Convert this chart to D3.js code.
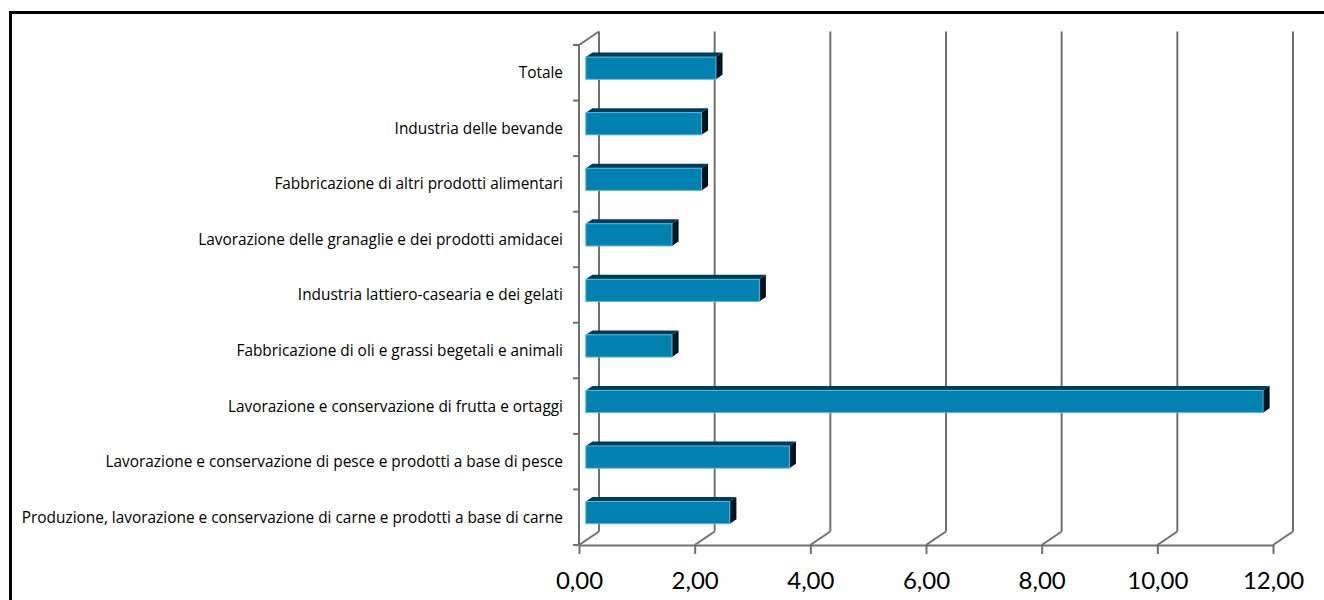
<!DOCTYPE html>
<html>
<head>
<meta charset="utf-8">
<script src="https://cdn.jsdelivr.net/npm/d3@7"></script>
<style>
  html, body { margin: 0; padding: 0; background: #fff; }
  svg { display: block; }
</style>
</head>
<body>
<svg id="chart" width="1324" height="600"></svg>
<script>
// Categories, top to bottom
const categories = [
  "Totale",
  "Industria delle bevande",
  "Fabbricazione di altri prodotti alimentari",
  "Lavorazione delle granaglie e dei prodotti amidacei",
  "Industria lattiero-casearia e dei gelati",
  "Fabbricazione di oli e grassi begetali e animali",
  "Lavorazione e conservazione di frutta e ortaggi",
  "Lavorazione e conservazione di pesce e prodotti a base di pesce",
  "Produzione, lavorazione e conservazione di carne e prodotti a base di carne"
];
const values = [2.25, 2.0, 2.0, 1.49, 3.0, 1.49, 11.71, 3.52, 2.49];
const tickValues = [0, 2, 4, 6, 8, 10, 12];

const svg = d3.select("#chart");

// Frame around the chart area
svg.append("path")
  .attr("d", "M10.5,600 L10.5,12.5 L1324,12.5")
  .attr("fill", "none").attr("stroke", "#000").attr("stroke-width", 3);

// Front plane scales
const x = d3.scaleLinear().domain([0, 12]).range([579, 1273]);
const y = d3.scaleBand().domain(categories).range([45, 545]).paddingInner(0).paddingOuter(0);

// Depth offset of the back wall
const DX = 20, DY = -13.5;
const gridColor = "#707070";

const g = svg.append("g");

// Back wall vertical gridlines
g.selectAll("line.grid").data(tickValues).join("line")
  .attr("class", "grid")
  .attr("x1", d => x(d) + DX).attr("x2", d => x(d) + DX)
  .attr("y1", y.range()[0] + DY).attr("y2", y.range()[1] + DY)
  .attr("stroke", gridColor).attr("stroke-width", 2);

// Floor diagonals from each front tick to the back wall
g.selectAll("line.floor").data(tickValues).join("line")
  .attr("class", "floor")
  .attr("x1", d => x(d)).attr("y1", y.range()[1])
  .attr("x2", d => x(d) + DX).attr("y2", y.range()[1] + DY)
  .attr("stroke", gridColor).attr("stroke-width", 2);

// Left wall: top diagonal
g.append("line")
  .attr("x1", x(0)).attr("y1", y.range()[0])
  .attr("x2", x(0) + DX).attr("y2", y.range()[0] + DY)
  .attr("stroke", gridColor).attr("stroke-width", 2);

// Category axis line with outward ticks at band edges
g.append("line")
  .attr("x1", x(0)).attr("x2", x(0))
  .attr("y1", y.range()[0]).attr("y2", y.range()[1])
  .attr("stroke", gridColor).attr("stroke-width", 2);
const bandEdges = categories.map(c => y(c)).concat([y.range()[1]]);
g.selectAll("line.ytick").data(bandEdges).join("line")
  .attr("class", "ytick")
  .attr("x1", x(0) - 6).attr("x2", x(0))
  .attr("y1", d => d).attr("y2", d => d)
  .attr("stroke", gridColor).attr("stroke-width", 2);

// Category labels
g.selectAll("text.cat").data(categories).join("text")
  .attr("class", "cat")
  .attr("x", 563)
  .attr("y", d => y(d) + y.bandwidth() / 2)
  .attr("dy", "0.35em")
  .attr("text-anchor", "end")
  .attr("font-family", "'Open Sans', sans-serif")
  .attr("font-size", 15.4)
  .attr("fill", "#000")
  .text(d => d);

// Value axis along the front floor edge
const xAxis = d3.axisBottom(x)
  .tickValues(tickValues)
  .tickSize(9)
  .tickSizeOuter(0)
  .tickFormat(d => d3.format(".2f")(d).replace(".", ","));
const axG = svg.append("g")
  .attr("transform", `translate(0,${y.range()[1]})`)
  .call(xAxis);
axG.select(".domain").attr("stroke", gridColor).attr("stroke-width", 2);
axG.selectAll(".tick line").attr("stroke", gridColor).attr("stroke-width", 2);
axG.selectAll(".tick text")
  .attr("font-family", "Lato, 'Open Sans', sans-serif")
  .attr("font-size", 24)
  .attr("fill", "#000")
  .attr("y", 27);

// 3D bars, sitting in the middle of the wall depth
const f0 = 0.34, f1 = 0.67;
const barFrac = 0.4;
const bh = y.bandwidth() * barFrac;
const bars = svg.append("g").selectAll("g.bar")
  .data(categories.map((c, i) => ({ c, v: values[i] })))
  .join("g").attr("class", "bar");

const fx0 = DX * f0, fy0 = DY * f0;
const ddx = DX * (f1 - f0), ddy = DY * (f1 - f0);
const barTop = d => y(d.c) + (y.bandwidth() - bh) / 2 + fy0;

// top face
bars.append("path")
  .attr("d", d => {
    const xl = x(0) + fx0, xr = x(d.v) + fx0, yt = barTop(d);
    return `M${xl},${yt} L${xl + ddx},${yt + ddy} L${xr + ddx},${yt + ddy} L${xr},${yt} Z`;
  })
  .attr("fill", "#023b55");

// side face
bars.append("path")
  .attr("d", d => {
    const xr = x(d.v) + fx0, yt = barTop(d);
    return `M${xr},${yt} L${xr + ddx},${yt + ddy} L${xr + ddx},${yt + bh + ddy} L${xr},${yt + bh} Z`;
  })
  .attr("fill", "#00141f");

// front face
bars.append("rect")
  .attr("x", x(0) + fx0)
  .attr("y", d => barTop(d))
  .attr("width", d => x(d.v) - x(0))
  .attr("height", bh)
  .attr("fill", "#0181b0")
  .attr("stroke", "#56b9de")
  .attr("stroke-width", 1);
</script>
</body>
</html>
